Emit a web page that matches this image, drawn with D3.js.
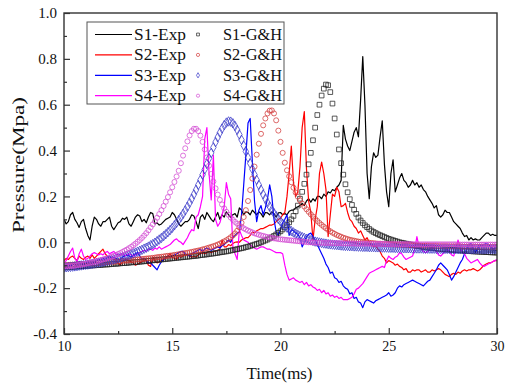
<!DOCTYPE html>
<html>
<head>
<meta charset="utf-8">
<script src="https://cdn.jsdelivr.net/npm/d3@7"></script>
<style>
  body { margin: 0; background: #fff; }
  svg text { font-family: "Liberation Serif", "Times New Roman", serif; fill: #111; }
</style>
</head>
<body>
<svg id="chart" width="515" height="387"></svg>
<script>
// time grid of the recordings (ms), one sample every 0.1 ms from 10 to 30
const timeStart = 10;
const timeStep = 0.1;

// measured pressure (MPa)
const s1Exp = [
  0.10, 0.08, 0.09, 0.12, 0.13, 0.10, 0.085, 0.065, 0.09, 0.10,
  0.06, 0.03, 0.01, 0.07, 0.11, 0.10, 0.08, 0.07, 0.09, 0.09,
  0.10, 0.11, 0.07, 0.055, 0.07, 0.085, 0.09, 0.105, 0.10, 0.11,
  0.08, 0.07, 0.09, 0.11, 0.12, 0.115, 0.09, 0.10, 0.085, 0.11,
  0.13, 0.125, 0.08, 0.085, 0.075, 0.08, 0.09, 0.10, 0.105, 0.11,
  0.13, 0.12, 0.10, 0.08, 0.07, 0.08, 0.09, 0.09, 0.10, 0.12,
  0.115, 0.09, 0.06, 0.11, 0.12, 0.10, 0.13, 0.115, 0.10, 0.09,
  0.11, 0.13, 0.10, 0.12, 0.11, 0.133, 0.12, 0.11, 0.12, 0.125,
  0.11, 0.15, 0.14, 0.12, 0.133, 0.13, 0.12, 0.14, 0.13, 0.12,
  0.133, 0.125, 0.11, 0.13, 0.128, 0.12, 0.133, 0.125, 0.11, 0.128,
  0.13, 0.12, 0.125, 0.12, 0.135, 0.14, 0.14, 0.15, 0.155, 0.16,
  0.17, 0.16, 0.18, 0.19, 0.175, 0.19, 0.18, 0.20, 0.20, 0.19,
  0.21, 0.20, 0.22, 0.215, 0.23, 0.225, 0.24, 0.25, 0.27, 0.51,
  0.45, 0.42, 0.40, 0.44, 0.48, 0.50, 0.46, 0.62, 0.81, 0.60,
  0.30, 0.19, 0.33, 0.39, 0.37, 0.38, 0.46, 0.53, 0.34, 0.22,
  0.155, 0.30, 0.36, 0.22, 0.25, 0.28, 0.30, 0.27, 0.26, 0.24,
  0.25, 0.27, 0.25, 0.26, 0.24, 0.25, 0.23, 0.22, 0.20, 0.185,
  0.17, 0.15, 0.16, 0.12, 0.11, 0.12, 0.14, 0.13, 0.13, 0.11,
  0.09, 0.08, 0.07, 0.06, 0.04, 0.025, 0.03, 0.01, 0.02, 0.01,
  0.015, 0.01, 0.01, 0.02, 0.03, 0.04, 0.04, 0.03, 0.035, 0.03,
  0.03
];
const s2Exp = [
  -0.08, -0.07, -0.075, -0.065, -0.06, -0.07, -0.08, -0.06, -0.07, -0.075,
  -0.065, -0.06, -0.07, -0.055, -0.07, -0.06, -0.05, -0.04, -0.03, -0.05,
  -0.06, -0.07, -0.065, -0.07, -0.08, -0.09, -0.1, -0.085, -0.075, -0.075,
  -0.08, -0.085, -0.09, -0.1, -0.095, -0.09, -0.085, -0.08, -0.08, -0.1,
  -0.105, -0.065, -0.08, -0.09, -0.085, -0.08, -0.075, -0.07, -0.06, -0.05,
  -0.065, -0.07, -0.075, -0.06, -0.065, -0.06, -0.055, -0.055, -0.06, -0.065,
  -0.06, -0.065, -0.055, -0.05, -0.045, -0.05, -0.045, -0.04, -0.045, -0.04,
  -0.04, -0.035, -0.03, 0.01, -0.02, -0.02, -0.01, -0.015, -0.005, 0.0,
  0.002, 0.0, 0.01, 0.015, 0.02, 0.02, 0.03, 0.045, 0.04, 0.05,
  0.055, 0.06, 0.06, 0.065, 0.07, 0.075, 0.075, 0.08, 0.09, 0.10,
  0.105, 0.12, 0.13, 0.20, 0.30, 0.42, 0.26, 0.20, 0.22, 0.33,
  0.50, 0.57, 0.32, 0.18, 0.13, 0.01, 0.10, 0.155, 0.30, 0.35,
  0.30, 0.23, 0.025, 0.12, 0.21, 0.20, 0.24, 0.22, 0.155, 0.16,
  0.17, 0.13, 0.10, 0.09, 0.07, 0.06, 0.04, 0.05, 0.03, 0.01,
  0.02, 0.0, -0.01, -0.02, -0.015, -0.03, -0.04, -0.06, -0.07, -0.09,
  -0.08, -0.085, -0.09, -0.1, -0.095, -0.105, -0.11, -0.12, -0.115, -0.13,
  -0.13, -0.12, -0.125, -0.12, -0.12, -0.13, -0.125, -0.12, -0.13, -0.13,
  -0.12, -0.125, -0.12, -0.115, -0.12, -0.13, -0.14, -0.145, -0.15, -0.14,
  -0.135, -0.14, -0.13, -0.135, -0.125, -0.12, -0.125, -0.12, -0.12, -0.115,
  -0.12, -0.125, -0.12, -0.11, -0.1, -0.095, -0.09, -0.09, -0.085, -0.08,
  -0.08
];
const s3Exp = [
  -0.1, -0.11, -0.1, -0.105, -0.095, -0.09, -0.1, -0.085, -0.09, -0.1,
  -0.095, -0.085, -0.09, -0.085, -0.09, -0.08, -0.075, -0.08, -0.07, -0.075,
  -0.065, -0.06, -0.07, -0.065, -0.07, -0.075, -0.075, -0.065, -0.06, -0.055,
  -0.06, -0.065, -0.055, -0.05, -0.045, -0.06, -0.075, -0.07, -0.08, -0.09,
  -0.09, -0.1, -0.11, -0.12, -0.1, -0.085, -0.075, -0.065, -0.06, -0.065,
  -0.06, -0.055, -0.05, -0.045, -0.04, -0.04, -0.05, -0.055, -0.06, -0.05,
  -0.045, -0.04, -0.035, -0.03, -0.04, -0.03, -0.025, -0.03, -0.035, -0.03,
  -0.025, -0.02, -0.025, -0.015, -0.01, 0.0, 0.01, 0.0, 0.02, 0.03,
  0.04, 0.045, 0.12, 0.25, 0.38, 0.52, 0.54, 0.35, 0.18, 0.09,
  0.14, 0.16, 0.12, 0.15, 0.19, 0.25, 0.20, 0.10, 0.045, 0.03,
  0.055, 0.085, 0.10, 0.12, 0.03, 0.055, 0.05, 0.04, 0.035, 0.02,
  -0.02, 0.0, 0.025, 0.035, 0.04, 0.025, 0.01, -0.01, -0.03, -0.05,
  -0.07, -0.095, -0.11, -0.135, -0.13, -0.155, -0.16, -0.175, -0.17, -0.19,
  -0.2, -0.205, -0.225, -0.22, -0.245, -0.24, -0.26, -0.265, -0.285, -0.26,
  -0.25, -0.255, -0.26, -0.265, -0.255, -0.25, -0.245, -0.24, -0.235, -0.23,
  -0.22, -0.235, -0.23, -0.22, -0.2, -0.19, -0.195, -0.185, -0.18, -0.175,
  -0.17, -0.165, -0.17, -0.175, -0.18, -0.185, -0.19, -0.18, -0.17, -0.165,
  -0.15, -0.135, -0.12, -0.1, -0.09, -0.1, -0.11, -0.12, -0.14, -0.165,
  -0.15, -0.13, -0.11, -0.09, -0.075, -0.05, -0.03, -0.01, -0.005, -0.03,
  -0.045, -0.03, -0.01, -0.015, -0.01, -0.005, -0.01, -0.02, -0.03, -0.025,
  -0.025
];
const s4Exp = [
  -0.09, -0.08, -0.06, -0.04, -0.025, -0.07, -0.085, -0.05, -0.03, -0.06,
  -0.075, -0.07, -0.06, -0.05, -0.045, -0.05, -0.055, -0.05, -0.055, -0.045,
  -0.04, -0.05, -0.045, -0.04, -0.05, -0.055, -0.055, -0.05, -0.06, -0.055,
  -0.05, -0.055, -0.06, -0.055, -0.05, -0.045, -0.04, -0.035, -0.04, -0.03,
  -0.03, -0.035, -0.025, -0.03, -0.02, -0.03, -0.025, -0.02, -0.015, -0.01,
  0.0, 0.01, 0.015, 0.005, 0.0, -0.01, 0.005, 0.02, 0.04, 0.055,
  0.05, 0.11, 0.12, 0.155, 0.20, 0.45, 0.50, 0.30, 0.185, 0.38,
  0.10, 0.07, 0.085, 0.12, 0.155, 0.26, 0.21, 0.19, -0.02, -0.05,
  -0.075, 0.055, 0.03, 0.01, 0.005, 0.0, -0.01, -0.02, -0.025, -0.03,
  -0.025, -0.02, -0.02, -0.025, -0.03, -0.03, -0.035, -0.04, -0.045, -0.045,
  -0.045, -0.05, -0.1, -0.14, -0.165, -0.16, -0.155, -0.165, -0.17, -0.175,
  -0.17, -0.185, -0.175, -0.19, -0.185, -0.195, -0.2, -0.21, -0.205, -0.22,
  -0.21, -0.225, -0.22, -0.235, -0.23, -0.24, -0.235, -0.245, -0.24, -0.25,
  -0.25, -0.25, -0.245, -0.24, -0.225, -0.205, -0.2, -0.19, -0.18, -0.165,
  -0.15, -0.135, -0.13, -0.125, -0.12, -0.115, -0.11, -0.105, -0.11, -0.08,
  -0.06, -0.07, -0.075, -0.065, -0.06, -0.045, -0.05, -0.065, -0.075, -0.07,
  -0.065, -0.06, -0.03, 0.025, -0.02, -0.03, -0.04, -0.045, -0.04, -0.03,
  -0.02, -0.03, -0.04, -0.055, -0.06, -0.05, -0.04, -0.03, -0.04, -0.055,
  -0.06, -0.03, 0.01, -0.02, -0.045, -0.05, -0.07, -0.08, -0.09, -0.085,
  -0.08, -0.075, -0.09, -0.1, -0.105, -0.1, -0.095, -0.09, -0.085, -0.08,
  -0.075
];

// G&H model pressure (MPa), same time grid
const s1Model = [
  -0.110, -0.109, -0.109, -0.108, -0.107, -0.107, -0.106, -0.105, -0.105, -0.104,
  -0.103, -0.103, -0.102, -0.101, -0.101, -0.100, -0.099, -0.099, -0.098, -0.097,
  -0.097, -0.096, -0.095, -0.094, -0.094, -0.093, -0.092, -0.091, -0.091, -0.090,
  -0.089, -0.088, -0.087, -0.087, -0.086, -0.085, -0.084, -0.083, -0.082, -0.081,
  -0.080, -0.079, -0.078, -0.077, -0.076, -0.075, -0.074, -0.073, -0.072, -0.071,
  -0.070, -0.069, -0.068, -0.067, -0.066, -0.065, -0.064, -0.063, -0.062, -0.061,
  -0.060, -0.059, -0.058, -0.056, -0.055, -0.054, -0.053, -0.051, -0.050, -0.049,
  -0.047, -0.046, -0.044, -0.043, -0.041, -0.040, -0.038, -0.036, -0.034, -0.032,
  -0.030, -0.028, -0.026, -0.024, -0.021, -0.019, -0.016, -0.013, -0.010, -0.007,
  -0.004, 0.000, 0.004, 0.008, 0.012, 0.017, 0.022, 0.028, 0.034, 0.041,
  0.048, 0.056, 0.065, 0.075, 0.087, 0.100, 0.115, 0.135, 0.160, 0.190,
  0.220, 0.255, 0.295, 0.340, 0.390, 0.445, 0.500, 0.555, 0.600, 0.640,
  0.670, 0.688, 0.685, 0.655, 0.605, 0.540, 0.470, 0.405, 0.345, 0.295,
  0.253, 0.218, 0.188, 0.163, 0.142, 0.124, 0.108, 0.095, 0.084, 0.074,
  0.066, 0.058, 0.051, 0.045, 0.040, 0.035, 0.031, 0.027, 0.023, 0.019,
  0.015, 0.012, 0.009, 0.006, 0.003, 0.000, -0.002, -0.004, -0.006, -0.008,
  -0.010, -0.012, -0.014, -0.016, -0.017, -0.019, -0.020, -0.022, -0.023, -0.024,
  -0.025, -0.026, -0.027, -0.028, -0.029, -0.030, -0.031, -0.032, -0.032, -0.033,
  -0.034, -0.034, -0.035, -0.036, -0.036, -0.037, -0.038, -0.038, -0.039, -0.040,
  -0.040, -0.041, -0.041, -0.042, -0.042, -0.043, -0.043, -0.044, -0.044, -0.045,
  -0.045
];
const s2Model = [
  -0.100, -0.099, -0.099, -0.098, -0.098, -0.097, -0.096, -0.096, -0.095, -0.095,
  -0.094, -0.093, -0.093, -0.092, -0.092, -0.091, -0.090, -0.089, -0.089, -0.088,
  -0.087, -0.086, -0.085, -0.085, -0.084, -0.083, -0.082, -0.081, -0.080, -0.080,
  -0.079, -0.078, -0.077, -0.076, -0.075, -0.074, -0.073, -0.072, -0.071, -0.070,
  -0.069, -0.068, -0.067, -0.065, -0.064, -0.063, -0.062, -0.060, -0.059, -0.058,
  -0.057, -0.055, -0.054, -0.052, -0.051, -0.049, -0.047, -0.046, -0.044, -0.042,
  -0.040, -0.038, -0.036, -0.034, -0.031, -0.029, -0.026, -0.023, -0.020, -0.017,
  -0.014, -0.010, -0.006, -0.001, 0.004, 0.009, 0.015, 0.022, 0.030, 0.039,
  0.050, 0.065, 0.085, 0.110, 0.140, 0.180, 0.228, 0.278, 0.330, 0.382,
  0.430, 0.473, 0.510, 0.540, 0.562, 0.574, 0.575, 0.562, 0.532, 0.487,
  0.438, 0.390, 0.347, 0.314, 0.288, 0.262, 0.238, 0.217, 0.199, 0.183,
  0.169, 0.156, 0.144, 0.133, 0.122, 0.112, 0.102, 0.093, 0.084, 0.076,
  0.068, 0.061, 0.054, 0.048, 0.042, 0.037, 0.032, 0.028, 0.024, 0.020,
  0.017, 0.014, 0.011, 0.009, 0.007, 0.005, 0.003, 0.002, 0.001, 0.000,
  -0.001, -0.002, -0.003, -0.004, -0.005, -0.006, -0.006, -0.007, -0.008, -0.008,
  -0.009, -0.009, -0.010, -0.010, -0.011, -0.011, -0.012, -0.012, -0.012, -0.013,
  -0.013, -0.013, -0.014, -0.014, -0.014, -0.015, -0.015, -0.015, -0.015, -0.016,
  -0.016, -0.016, -0.016, -0.017, -0.017, -0.017, -0.017, -0.017, -0.018, -0.018,
  -0.018, -0.018, -0.018, -0.018, -0.019, -0.019, -0.019, -0.019, -0.019, -0.019,
  -0.019, -0.019, -0.020, -0.020, -0.020, -0.020, -0.020, -0.020, -0.020, -0.020,
  -0.020
];
const s3Model = [
  -0.110, -0.109, -0.108, -0.107, -0.106, -0.105, -0.104, -0.102, -0.101, -0.100,
  -0.098, -0.097, -0.095, -0.094, -0.092, -0.090, -0.089, -0.087, -0.085, -0.083,
  -0.081, -0.079, -0.077, -0.074, -0.072, -0.069, -0.067, -0.064, -0.061, -0.058,
  -0.055, -0.052, -0.048, -0.045, -0.041, -0.037, -0.033, -0.028, -0.024, -0.019,
  -0.013, -0.008, -0.002, 0.005, 0.012, 0.019, 0.027, 0.035, 0.044, 0.053,
  0.063, 0.074, 0.085, 0.097, 0.110, 0.124, 0.139, 0.155, 0.172, 0.190,
  0.209, 0.229, 0.250, 0.272, 0.295, 0.318, 0.342, 0.366, 0.390, 0.414,
  0.437, 0.458, 0.478, 0.496, 0.511, 0.522, 0.527, 0.526, 0.519, 0.507,
  0.490, 0.470, 0.447, 0.422, 0.396, 0.370, 0.344, 0.319, 0.295, 0.272,
  0.250, 0.229, 0.209, 0.190, 0.172, 0.156, 0.141, 0.127, 0.114, 0.102,
  0.091, 0.081, 0.072, 0.064, 0.056, 0.049, 0.043, 0.037, 0.032, 0.027,
  0.023, 0.019, 0.015, 0.012, 0.009, 0.006, 0.003, 0.001, -0.001, -0.003,
  -0.005, -0.006, -0.008, -0.009, -0.010, -0.011, -0.012, -0.013, -0.014, -0.015,
  -0.016, -0.016, -0.017, -0.017, -0.018, -0.018, -0.019, -0.019, -0.020, -0.020,
  -0.020, -0.021, -0.021, -0.021, -0.022, -0.022, -0.022, -0.023, -0.023, -0.023,
  -0.024, -0.024, -0.024, -0.025, -0.025, -0.025, -0.025, -0.026, -0.026, -0.026,
  -0.026, -0.027, -0.027, -0.027, -0.027, -0.027, -0.028, -0.028, -0.028, -0.028,
  -0.028, -0.028, -0.029, -0.029, -0.029, -0.029, -0.029, -0.029, -0.029, -0.030,
  -0.030, -0.030, -0.030, -0.030, -0.030, -0.030, -0.030, -0.030, -0.030, -0.030,
  -0.030, -0.030, -0.030, -0.030, -0.030, -0.030, -0.030, -0.030, -0.030, -0.030,
  -0.030
];
const s4Model = [
  -0.105, -0.105, -0.105, -0.104, -0.103, -0.102, -0.100, -0.098, -0.097, -0.095,
  -0.093, -0.091, -0.089, -0.087, -0.085, -0.083, -0.080, -0.078, -0.075, -0.072,
  -0.069, -0.066, -0.063, -0.059, -0.055, -0.051, -0.047, -0.042, -0.037, -0.032,
  -0.026, -0.020, -0.013, -0.006, 0.002, 0.010, 0.019, 0.029, 0.040, 0.052,
  0.065, 0.078, 0.092, 0.107, 0.123, 0.140, 0.158, 0.177, 0.197, 0.218,
  0.240, 0.263, 0.287, 0.312, 0.345, 0.378, 0.410, 0.440, 0.466, 0.485,
  0.495, 0.495, 0.485, 0.465, 0.438, 0.405, 0.370, 0.334, 0.298, 0.265,
  0.235, 0.208, 0.185, 0.165, 0.148, 0.133, 0.120, 0.108, 0.098, 0.089,
  0.081, 0.074, 0.067, 0.061, 0.056, 0.051, 0.047, 0.043, 0.039, 0.036,
  0.033, 0.030, 0.028, 0.025, 0.023, 0.021, 0.019, 0.017, 0.016, 0.014,
  0.013, 0.012, 0.011, 0.010, 0.009, 0.008, 0.007, 0.006, 0.005, 0.004,
  0.003, 0.002, 0.001, 0.000, 0.000, -0.001, -0.001, -0.002, -0.002, -0.002,
  -0.003, -0.003, -0.003, -0.003, -0.004, -0.004, -0.004, -0.004, -0.004, -0.005,
  -0.005, -0.005, -0.005, -0.005, -0.005, -0.006, -0.006, -0.006, -0.006, -0.006,
  -0.006, -0.006, -0.007, -0.007, -0.007, -0.007, -0.007, -0.007, -0.007, -0.008,
  -0.008, -0.008, -0.008, -0.008, -0.008, -0.008, -0.008, -0.008, -0.008, -0.008,
  -0.008, -0.008, -0.009, -0.009, -0.009, -0.009, -0.009, -0.009, -0.009, -0.009,
  -0.009, -0.009, -0.009, -0.009, -0.009, -0.009, -0.009, -0.009, -0.009, -0.009,
  -0.009, -0.009, -0.010, -0.010, -0.010, -0.010, -0.010, -0.010, -0.010, -0.010,
  -0.010, -0.010, -0.010, -0.010, -0.010, -0.010, -0.010, -0.010, -0.010, -0.010,
  -0.010
];

const expNames = ['S1-Exp', 'S2-Exp', 'S3-Exp', 'S4-Exp'];
const modelNames = ['S1-G&H', 'S2-G&H', 'S3-G&H', 'S4-G&H'];
const xTicks = [10, 15, 20, 25, 30];
const xMinorTicks = [12.5, 17.5, 22.5, 27.5];
const yTicks = [-0.4, -0.2, 0.0, 0.2, 0.4, 0.6, 0.8, 1.0];
const yMinorTicks = [-0.3, -0.1, 0.1, 0.3, 0.5, 0.7, 0.9];

const expColors = ['#000000', '#ff0000', '#0000ff', '#ff00ff'];
const modelColors = ['#222222', '#d23a3a', '#3a3ac8', '#d24ad2'];
const modelSymbols = [d3.symbolSquare, d3.symbolCircle, d3.symbolDiamond, d3.symbolCircle];
const modelSizes = [22, 20, 26, 20];

const width = 515, height = 387;
const margin = { top: 13, right: 18, bottom: 53, left: 64 };
const innerW = width - margin.left - margin.right;
const innerH = height - margin.top - margin.bottom;

const time = d3.range(s1Exp.length).map(i => timeStart + i * timeStep);

const svg = d3.select('#chart');
const g = svg.append('g').attr('transform', `translate(${margin.left},${margin.top})`);

const x = d3.scaleLinear().domain([10, 30]).range([0, innerW]);
const y = d3.scaleLinear().domain([-0.4, 1.0]).range([innerH, 0]);

g.append('clipPath').attr('id', 'plot-clip')
  .append('rect').attr('width', innerW).attr('height', innerH);

const plot = g.append('g').attr('clip-path', 'url(#plot-clip)');

const line = d3.line()
  .x((d, i) => x(time[i]))
  .y(d => y(d));

// experimental traces
[s1Exp, s2Exp, s3Exp, s4Exp].forEach((series, k) => {
  plot.append('path')
    .datum(series)
    .attr('fill', 'none')
    .attr('stroke', expColors[k])
    .attr('stroke-width', 1.2)
    .attr('stroke-linejoin', 'round')
    .attr('d', line);
});

// G&H model, open symbols
[s1Model, s2Model, s3Model, s4Model].forEach((series, k) => {
  const sym = d3.symbol().type(modelSymbols[k]).size(modelSizes[k]);
  plot.append('g')
    .selectAll('path')
    .data(series)
    .enter()
    .append('path')
    .attr('transform', (d, i) => `translate(${x(time[i])},${y(d)})`)
    .attr('d', sym)
    .attr('fill', 'none')
    .attr('stroke', modelColors[k])
    .attr('stroke-width', 0.75);
});

// axes with inward ticks
const axisFont = '"Liberation Serif", "Times New Roman", serif';

g.append('g')
  .attr('transform', `translate(0,${innerH})`)
  .call(d3.axisBottom(x).tickValues(xTicks).tickSize(-6).tickPadding(7).tickFormat(d => d))
  .call(a => a.select('.domain').remove())
  .attr('font-size', 14)
  .attr('font-family', axisFont)
  .attr('color', '#333');

g.append('g')
  .attr('transform', `translate(0,${innerH})`)
  .call(d3.axisBottom(x).tickValues(xMinorTicks).tickSize(-3).tickFormat(''))
  .call(a => a.select('.domain').remove())
  .attr('color', '#333');

g.append('g')
  .call(d3.axisLeft(y).tickValues(yTicks).tickSize(-6).tickPadding(7).tickFormat(d => d.toFixed(1)))
  .call(a => a.select('.domain').remove())
  .attr('font-size', 15)
  .attr('font-family', axisFont)
  .attr('color', '#333');

g.append('g')
  .call(d3.axisLeft(y).tickValues(yMinorTicks).tickSize(-3).tickFormat(''))
  .call(a => a.select('.domain').remove())
  .attr('color', '#333');

g.selectAll('.tick line').attr('stroke-width', 1.2);
g.selectAll('.tick text').attr('fill', '#111');

// frame
g.append('rect')
  .attr('width', innerW)
  .attr('height', innerH)
  .attr('fill', 'none')
  .attr('stroke', '#333')
  .attr('stroke-width', 1.4);

// axis titles
svg.append('text')
  .attr('x', margin.left + innerW / 2 - 1)
  .attr('y', 379)
  .attr('text-anchor', 'middle')
  .attr('font-size', 17)
  .attr('textLength', 66)
  .attr('lengthAdjust', 'spacingAndGlyphs')
  .text('Time(ms)');

// the y title is long and narrow in the original, so squash its glyph height
svg.append('text')
  .attr('transform', 'translate(24,165) scale(0.78,1) rotate(-90)')
  .attr('text-anchor', 'middle')
  .attr('font-size', 22)
  .attr('textLength', 136)
  .attr('lengthAdjust', 'spacingAndGlyphs')
  .text('Pressure(Mpa)');

// legend
const legend = svg.append('g').attr('transform', 'translate(87,22)');
legend.append('rect')
  .attr('width', 197)
  .attr('height', 82)
  .attr('fill', '#fff')
  .attr('stroke', '#555')
  .attr('stroke-width', 1);

expNames.forEach((name, k) => {
  const row = legend.append('g').attr('transform', `translate(0,${12.5 + k * 20.4})`);
  row.append('line')
    .attr('x1', 8).attr('x2', 45)
    .attr('stroke', expColors[k])
    .attr('stroke-width', 1.2);
  row.append('text')
    .attr('x', 47).attr('y', 5.5)
    .attr('font-size', 16)
    .attr('textLength', 52)
    .attr('lengthAdjust', 'spacingAndGlyphs')
    .text(name);
  row.append('path')
    .attr('transform', 'translate(111,0)')
    .attr('d', d3.symbol().type(modelSymbols[k]).size(8))
    .attr('fill', 'none')
    .attr('stroke', modelColors[k])
    .attr('stroke-width', 0.7);
  row.append('text')
    .attr('x', 136).attr('y', 5.5)
    .attr('font-size', 16)
    .attr('textLength', 59)
    .attr('lengthAdjust', 'spacingAndGlyphs')
    .text(modelNames[k]);
});
</script>
</body>
</html>
